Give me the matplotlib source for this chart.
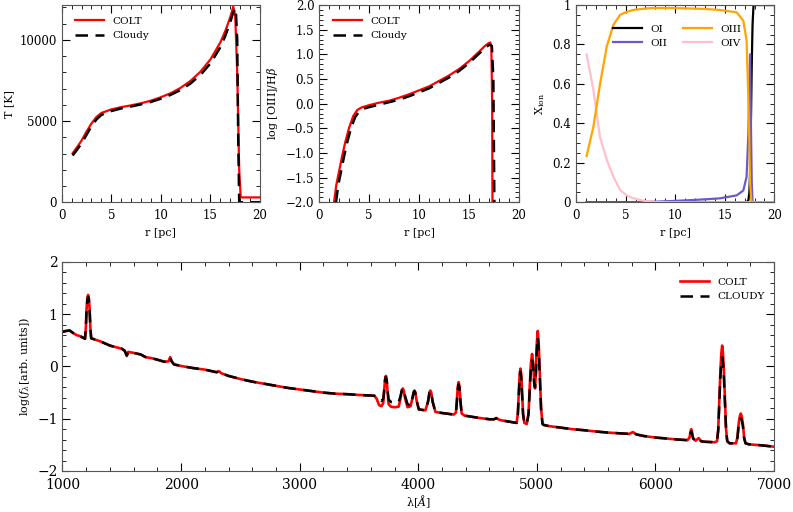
import numpy as np
import matplotlib
matplotlib.use("Agg")
from matplotlib import pyplot as plt
from matplotlib.ticker import MultipleLocator, FixedLocator, FixedFormatter

plt.rcParams['font.family'] = ['DejaVu Serif']
plt.rcParams['mathtext.fontset'] = 'dejavuserif'

# --- panel 1 : temperature profile
r_t_colt = [1.1, 1.5, 2.0, 2.5, 3.0, 3.5, 4.0, 5.0, 6.0, 7.0, 8.0, 9.0, 10.0, 11.0, 12.0,
            13.0, 14.0, 15.0, 16.0, 16.5, 17.0, 17.3, 17.5, 17.7, 17.9, 18.05, 20.0]
T_colt = [3020, 3350, 3800, 4350, 4850, 5250, 5500, 5720, 5860, 5970, 6100, 6260, 6470, 6720, 7050,
          7480, 8050, 8800, 9850, 10550, 11400, 12050, 11500, 8000, 2000, 300, 300]
r_t_cloudy = [1.1, 1.5, 2.0, 2.5, 3.0, 3.5, 4.0, 5.0, 6.0, 7.0, 8.0, 9.0, 10.0, 11.0, 12.0,
              13.0, 14.0, 15.0, 16.0, 16.5, 17.0, 17.3, 17.55, 17.7, 17.8, 17.9, 20.0]
T_cloudy = [2880, 3200, 3620, 4150, 4680, 5100, 5380, 5620, 5780, 5900, 6030, 6180, 6380, 6620, 6920,
            7320, 7850, 8550, 9550, 10250, 11100, 11700, 11950, 10000, 4000, 0, 0]

# --- panel 2 : log [OIII]/Hbeta
r_o_colt = [1.47, 1.7, 2.0, 2.3, 2.6, 3.0, 3.4, 3.8, 4.2, 5.0, 6.0, 7.0, 8.0, 9.0, 10.0,
            11.0, 12.0, 13.0, 14.0, 15.0, 16.0, 16.6, 17.0, 17.15, 17.25, 17.33, 17.36]
o3hb_colt = [-2.0, -1.65, -1.35, -1.05, -0.78, -0.48, -0.25, -0.13, -0.08, -0.03, 0.02, 0.06, 0.12, 0.19, 0.27,
             0.35, 0.46, 0.57, 0.70, 0.86, 1.05, 1.17, 1.23, 1.24, 1.15, 0.0, -2.0]
r_o_cloudy = [1.67, 1.9, 2.2, 2.5, 2.8, 3.2, 3.6, 4.0, 4.5, 5.0, 6.0, 7.0, 8.0, 9.0, 10.0,
              11.0, 12.0, 13.0, 14.0, 15.0, 16.0, 16.6, 17.1, 17.3, 17.45, 17.55]
o3hb_cloudy = [-2.0, -1.65, -1.35, -1.05, -0.78, -0.48, -0.27, -0.16, -0.10, -0.07, -0.02, 0.03, 0.08, 0.15, 0.23,
               0.31, 0.42, 0.53, 0.66, 0.82, 1.01, 1.13, 1.20, 1.17, 0.5, -2.0]

# --- panel 3 : oxygen ionisation fractions
r_ion = [1.07, 1.75, 2.42, 3.1, 3.77, 4.44, 5.1, 5.78, 7.1, 7.8, 9.5, 11.16, 13.0, 14.5, 16.2, 16.87,
         17.2, 17.38, 17.48, 17.55, 17.65, 17.72, 17.8, 17.9, 18.2, 20.0]
x_OI = [0, 0, 0, 0, 0, 0, 0, 0, 0, 0, 0, 0, 0, 0, 0, 0,
        0, 0.01, 0.05, 0.15, 0.45, 0.7, 0.9, 1.0, 1.0, 1.0]
x_OII = [0, 0, 0, 0, 0, 0, 0, 0, 0.002, 0.003, 0.006, 0.01, 0.015, 0.02, 0.035, 0.06,
         0.13, 0.35, 0.6, 0.75, 0.35, 0.1, 0.0, 0, 0, 0]
x_OIII = [0.235, 0.383, 0.60, 0.79, 0.90, 0.95, 0.965, 0.975, 0.983, 0.985, 0.985, 0.983, 0.98, 0.975, 0.963, 0.92,
          0.82, 0.52, 0.3, 0.1, 0.02, 0, 0, 0, 0, 0]
x_OIV = [0.75, 0.57, 0.33, 0.215, 0.13, 0.062, 0.035, 0.02, 0.005, 0.002, 0, 0, 0, 0, 0, 0,
         0, 0, 0, 0, 0, 0, 0, 0, 0, 0]

# --- bottom : spectrum (one line of each list per feature, same counts)
lam = [1000, 1030, 1060, 1090, 1120, 1150, 1175, 1190,
       1197, 1203, 1210, 1216, 1222, 1229, 1235, 1242,
       1280, 1320, 1360, 1400, 1450, 1500, 1525, 1542, 1555, 1600, 1660, 1700, 1750, 1800,
       1860, 1895, 1908, 1920, 1940, 2000, 2100, 2200, 2300, 2320, 2340, 2400, 2500, 2600,
       2700, 2800, 2900, 3000, 3100, 3200, 3300, 3400, 3500, 3600, 3630,
       3650, 3670, 3690, 3705, 3712, 3720, 3727, 3734, 3742, 3750, 3770, 3800, 3835,
       3850, 3862, 3870, 3878, 3890, 3910, 3935,
       3950, 3961, 3968, 3975, 3986, 4005, 4060,
       4082, 4095, 4102, 4109, 4122, 4145, 4200, 4300,
       4318, 4326, 4334, 4341, 4348, 4356, 4366, 4390,
       4500, 4600, 4640, 4658, 4675, 4700, 4800, 4830,
       4840, 4848, 4855, 4862, 4869, 4876, 4884, 4895, 4915,
       4930, 4940, 4950, 4960, 4970, 4978, 4985, 4992, 5000, 5008, 5016, 5026, 5036, 5048, 5060,
       5100, 5200, 5300, 5400, 5500, 5600, 5700, 5780, 5810, 5840, 5900, 6000, 6100, 6200, 6270,
       6288, 6295, 6302, 6309, 6318, 6340, 6365, 6385, 6410, 6500, 6520,
       6530, 6538, 6548, 6556, 6563, 6570, 6578, 6588, 6596, 6606, 6625, 6680,
       6692, 6702, 6712, 6720, 6728, 6738, 6748, 6760, 6790, 6900, 7000]
flux_colt = [0.67, 0.68, 0.69, 0.64, 0.60, 0.58, 0.55, 0.53,
             0.75, 1.10, 1.32, 1.37, 1.32, 1.10, 0.75, 0.54,
             0.51, 0.48, 0.44, 0.40, 0.37, 0.34, 0.30, 0.20, 0.28, 0.26, 0.23, 0.18, 0.16, 0.13,
             0.09, 0.10, 0.18, 0.10, 0.04, 0.01, -0.03, -0.06, -0.11, -0.09, -0.13, -0.18, -0.24, -0.29,
             -0.33, -0.37, -0.41, -0.44, -0.47, -0.50, -0.52, -0.53, -0.545, -0.555, -0.56,
             -0.62, -0.74, -0.76, -0.70, -0.50, -0.25, -0.18, -0.25, -0.50, -0.72, -0.77, -0.78, -0.77,
             -0.62, -0.46, -0.42, -0.46, -0.62, -0.78, -0.76,
             -0.62, -0.49, -0.46, -0.49, -0.65, -0.82, -0.84,
             -0.68, -0.49, -0.46, -0.49, -0.68, -0.87, -0.89, -0.92,
             -0.88, -0.65, -0.38, -0.30, -0.38, -0.65, -0.90, -0.94,
             -0.98, -1.01, -1.01, -0.985, -1.01, -1.03, -1.07, -1.08,
             -0.90, -0.50, -0.15, -0.04, -0.15, -0.50, -0.90, -1.08, -1.10,
             -0.90, -0.40, 0.05, 0.24, 0.05, -0.30, -0.42, -0.12, 0.45, 0.68, 0.45, -0.20, -0.80, -1.10, -1.12,
             -1.14, -1.17, -1.20, -1.22, -1.245, -1.265, -1.28, -1.29, -1.255, -1.30, -1.33, -1.36, -1.38, -1.40, -1.41,
             -1.36, -1.26, -1.20, -1.26, -1.37, -1.42, -1.37, -1.43, -1.44, -1.45, -1.43,
             -1.20, -0.70, -0.10, 0.25, 0.40, 0.25, -0.10, -0.70, -1.20, -1.43, -1.47, -1.47,
             -1.35, -1.10, -0.95, -0.90, -0.95, -1.10, -1.35, -1.47, -1.49, -1.51, -1.535]
flux_cloudy = [0.66, 0.68, 0.69, 0.64, 0.60, 0.58, 0.55, 0.53,
               0.74, 1.07, 1.28, 1.33, 1.28, 1.07, 0.74, 0.54,
               0.51, 0.48, 0.44, 0.40, 0.37, 0.34, 0.30, 0.21, 0.28, 0.26, 0.23, 0.18, 0.16, 0.13,
               0.09, 0.10, 0.17, 0.10, 0.04, 0.01, -0.03, -0.06, -0.11, -0.09, -0.13, -0.18, -0.24, -0.29,
               -0.33, -0.37, -0.41, -0.44, -0.47, -0.50, -0.52, -0.53, -0.545, -0.555, -0.56,
               -0.58, -0.63, -0.66, -0.62, -0.48, -0.26, -0.20, -0.26, -0.46, -0.63, -0.68, -0.69, -0.68,
               -0.57, -0.45, -0.42, -0.45, -0.57, -0.72, -0.75,
               -0.62, -0.50, -0.47, -0.50, -0.65, -0.82, -0.84,
               -0.68, -0.50, -0.47, -0.50, -0.68, -0.87, -0.89, -0.92,
               -0.89, -0.67, -0.42, -0.34, -0.42, -0.67, -0.90, -0.94,
               -0.98, -1.01, -1.01, -0.99, -1.01, -1.03, -1.07, -1.08,
               -0.92, -0.55, -0.22, -0.10, -0.22, -0.55, -0.92, -1.08, -1.10,
               -0.92, -0.47, -0.05, 0.12, -0.05, -0.33, -0.40, -0.18, 0.33, 0.56, 0.33, -0.25, -0.82, -1.10, -1.12,
               -1.14, -1.17, -1.20, -1.22, -1.245, -1.265, -1.28, -1.29, -1.26, -1.30, -1.33, -1.36, -1.38, -1.40, -1.41,
               -1.37, -1.29, -1.24, -1.29, -1.38, -1.42, -1.38, -1.43, -1.44, -1.45, -1.43,
               -1.22, -0.76, -0.22, 0.07, 0.18, 0.07, -0.22, -0.76, -1.22, -1.43, -1.47, -1.47,
               -1.37, -1.14, -1.03, -0.99, -1.03, -1.14, -1.37, -1.47, -1.49, -1.51, -1.535]


def style(ax, xmin, ymin, size=8.5):
    ax.xaxis.set_minor_locator(MultipleLocator(xmin))
    ax.yaxis.set_minor_locator(MultipleLocator(ymin))
    ax.tick_params(which='both', direction='in', top=True, right=True, labelsize=size)
    ax.tick_params(which='major', length=6, width=0.8)
    ax.tick_params(which='minor', length=3, width=0.6)
    ax.tick_params(axis='x', pad=5)
    for s in ax.spines.values():
        s.set_color('#555555')


fig = plt.figure(figsize=(7.93, 5.12), dpi=100)

ax1 = fig.add_axes([0.0778, 0.6049, 0.2501, 0.3853])
ax1.plot(r_t_cloudy, T_cloudy, color='black', ls=(0, (5, 3)), lw=1.8, label='Cloudy', zorder=2)
ax1.plot(r_t_colt, T_colt, color='red', lw=1.6, label='COLT', zorder=1)
ax1.set_xlim(0, 20)
ax1.set_ylim(0, 12150)
ax1.set_xticks([0, 5, 10, 15, 20])
ax1.set_yticks([0, 5000, 10000])
style(ax1, 1, 1000)
ax1.set_xlabel('r [pc]', fontsize=8)
ax1.set_ylabel('T [K]', fontsize=8)
h, l = ax1.get_legend_handles_labels()
ax1.legend(h[::-1], l[::-1], loc='upper left', frameon=False, fontsize=7.5,
           handlelength=2.8, bbox_to_anchor=(0.02, 0.99))

ax2 = fig.add_axes([0.4027, 0.6049, 0.2515, 0.3853])
ax2.plot(r_o_cloudy, o3hb_cloudy, color='black', ls=(0, (5, 3)), lw=1.8, label='Cloudy', zorder=2)
ax2.plot(r_o_colt, o3hb_colt, color='red', lw=1.6, label='COLT', zorder=1)
ax2.set_xlim(0, 20)
ax2.set_ylim(-2, 2)
ax2.set_xticks([0, 5, 10, 15, 20])
ax2.set_yticks(np.arange(-2, 2.01, 0.5))
style(ax2, 1, 0.1)
ax2.set_xlabel('r [pc]', fontsize=8)
ax2.set_ylabel(r'log [OIII]/H$\beta$', fontsize=8)
h, l = ax2.get_legend_handles_labels()
ax2.legend(h[::-1], l[::-1], loc='upper left', frameon=False, fontsize=7.5,
           handlelength=2.8, bbox_to_anchor=(0.02, 0.99))

ax3 = fig.add_axes([0.7264, 0.6049, 0.2501, 0.3853])
ax3.plot(r_ion, x_OI, color='black', lw=1.6, label='OI')
ax3.plot(r_ion, x_OII, color='#6a5acd', lw=1.6, label='OII')
ax3.plot(r_ion, x_OIV, color='pink', lw=1.6, label='OIV')
ax3.plot(r_ion, x_OIII, color='orange', lw=1.6, label='OIII')
ax3.set_xlim(0, 20)
ax3.set_ylim(0, 1)
ax3.set_xticks([0, 5, 10, 15, 20])
ax3.yaxis.set_major_locator(FixedLocator([0, 0.2, 0.4, 0.6, 0.8, 1.0]))
ax3.yaxis.set_major_formatter(FixedFormatter(['0', '0.2', '0.4', '0.6', '0.8', '1']))
style(ax3, 1, 0.05)
ax3.set_xlabel('r [pc]', fontsize=8)
ax3.set_ylabel(r'X$_{\rm ion}$', fontsize=8)
h, l = ax3.get_legend_handles_labels()
order = [0, 1, 3, 2]
ax3.legend([h[i] for i in order], [l[i] for i in order], ncol=2, loc='upper left',
           frameon=False, fontsize=7.5, handlelength=2.8, columnspacing=1.5,
           bbox_to_anchor=(0.14, 0.95))

ax4 = fig.add_axes([0.0788, 0.0801, 0.8972, 0.4082])
ax4.plot(lam, flux_colt, color='red', lw=1.9, label='COLT')
ax4.plot(lam, flux_cloudy, color='black', ls=(0, (5, 3)), lw=1.8, label='CLOUDY')
ax4.set_xlim(1000, 7000)
ax4.set_ylim(-2, 2)
ax4.set_yticks([-2, -1, 0, 1, 2])
style(ax4, 200, 0.2, size=10)
ax4.tick_params(axis='x', pad=5)
ax4.set_xlabel(r'λ[$\mathit{\AA}$]', fontsize=8, labelpad=1)
ax4.set_ylabel(r'log($f_\lambda$[arb. units])', fontsize=8)
ax4.legend(loc='upper right', frameon=False, fontsize=7.5, handlelength=2.8,
           bbox_to_anchor=(1.0, 0.97))

fig.savefig('out.png', dpi=100)
